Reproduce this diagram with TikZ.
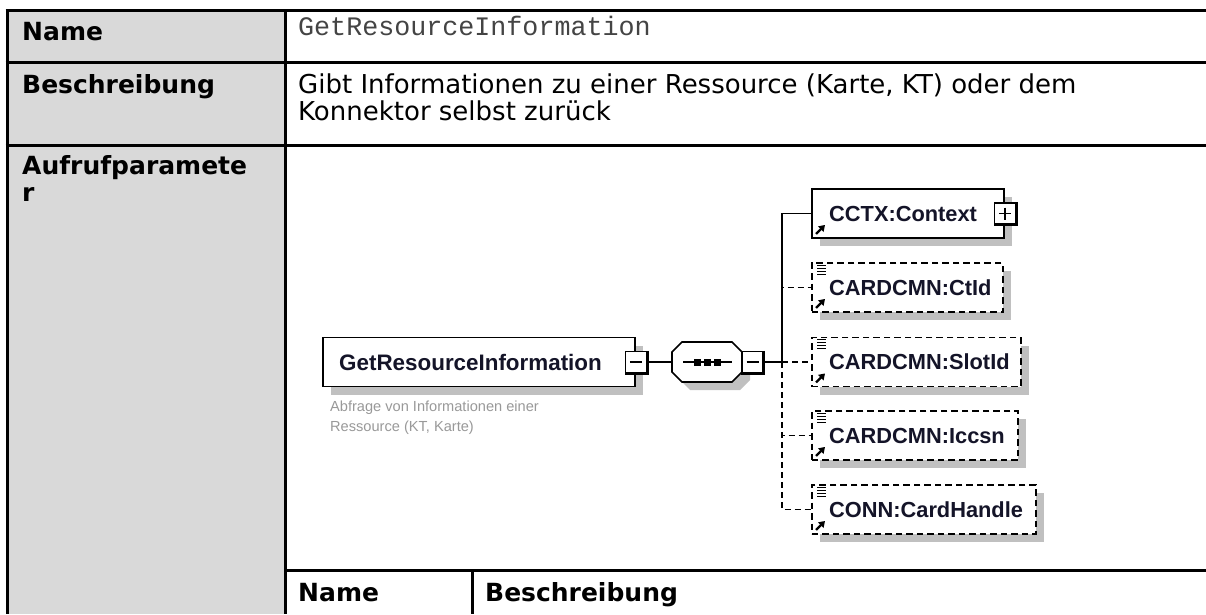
\documentclass[tikz,border=0pt]{standalone}
\usepackage{fontspec}
\setmainfont{DejaVu Sans}
\newfontfamily\xsfont{Liberation Sans}
\newfontfamily\ttmono{Liberation Mono}
\usetikzlibrary{shadows,arrows.meta,calc}
\definecolor{hdrgray}{HTML}{D9D9D9}
\definecolor{shadowgray}{HTML}{C0C0C0}
\definecolor{descgray}{HTML}{999999}
\definecolor{elemtext}{HTML}{141428}
\definecolor{monotext}{HTML}{444444}
\tikzset{
  tblline/.style={line width=3pt},
  hdr/.style={font=\fontsize{25}{30}\selectfont\bfseries, anchor=base west, inner sep=0},
  body/.style={font=\fontsize{26}{30}\selectfont, anchor=base west, inner sep=0},
  elembox/.style={draw, line width=1.9pt, fill=white, minimum height=49pt, inner sep=0, anchor=west,
    drop shadow={shadow xshift=8pt, shadow yshift=-8pt, fill=shadowgray, opacity=1}},
  optbox/.style={elembox, dash pattern=on 6.5pt off 4pt},
  elemtxt/.style={font=\xsfont\fontsize{21.8}{26}\selectfont\bfseries, text=elemtext, anchor=west, inner sep=0},
  desctxt/.style={font=\xsfont\fontsize{14.6}{20}\selectfont, text=descgray, anchor=north west, inner sep=0, align=left},
  conn/.style={line width=1.7pt},
  optconn/.style={conn, dash pattern=on 6pt off 4pt},
  pmbox/.style={draw, line width=1.4pt, fill=white, minimum size=21pt, inner sep=0},
  linkarrow/.style={line width=2.2pt, -{Triangle[length=6pt,width=7.5pt]}},
  iconline/.style={line width=1.1pt},
}
\newcommand\pmnode[3]{%
  \node[pmbox] (#1) at (#2) {};
  \draw[line width=3pt] (#1.north east) -- (#1.south east) -- (#1.south west);
  \draw[line width=1.5pt] ($(#1.center)+(-6,0)$) -- ($(#1.center)+(6,0)$);
  \ifx#3p\draw[line width=1.5pt] ($(#1.center)+(0,-6)$) -- ($(#1.center)+(0,6)$);\fi
}
\newcommand\linkicon[1]{%
  \draw[linkarrow] ([shift={(5,-5)}]#1.south west) -- ([shift={(14,-14)}]#1.south west);}
\newcommand\listicon[1]{%
  \foreach \k in {3,6,9,12}{\draw[iconline] ([shift={(6,\k)}]#1.north west) -- ([shift={(15,\k)}]#1.north west);}}
\begin{document}
\begin{tikzpicture}[x=1pt,y=-1pt]
\useasboundingbox (0,0) rectangle (1206,614);
\fill[white] (0,0) rectangle (1206,614);
% table
\fill[hdrgray] (7,10) rectangle (285,614);
\draw[tblline] (5.5,10) -- (1206,10);
\draw[tblline] (5.5,62) -- (1206,62);
\draw[tblline] (5.5,145) -- (1206,145);
\draw[tblline] (285,570) -- (1206,570);
\draw[tblline] (7,10) -- (7,614);
\draw[tblline] (285,10) -- (285,614);
\draw[tblline] (472,570) -- (472,614);
\node[hdr] (hname) at (22,40) {Name};
\node[body, font=\ttmono\fontsize{26.7}{30}\selectfont, text=monotext] (vname) at (298,35) {GetResourceInformation};
\node[hdr] (hdesc) at (22,93) {Beschreibung};
\node[body] (vdesc1) at (298,93) {Gibt Informationen zu einer Ressource (Karte, KT) oder dem};
\node[body] (vdesc2) at (298,120) {Konnektor selbst zurück};
\node[hdr] (hpar1) at (22,174) {Aufrufparamete};
\node[hdr] (hpar2) at (22,201) {r};
\node[hdr] (sname) at (298,601) {Name};
\node[hdr] (sdesc) at (485,601) {Beschreibung};
% diagram
\node[elembox, minimum width=312pt] (root) at (322,362) {};
\node[elemtxt, font=\xsfont\fontsize{22.4}{26}\selectfont\bfseries] (roott) at (339,362) {GetResourceInformation};
\node[desctxt] (rootd) at (330,401) {Abfrage von Informationen einer\\Ressource (KT, Karte)};
\pmnode{rootpm}{root.east}{m}
% sequence
\node[minimum width=70pt, minimum height=40pt, inner sep=0] (seq) at (707,362) {};
\fill[shadowgray] ($(seq.center)+(-27,-2)$) -- ($(seq.center)+(-17,-12)$) -- ($(seq.center)+(33,-12)$) -- ($(seq.center)+(43,-2)$) -- ($(seq.center)+(43,18)$) -- ($(seq.center)+(33,28)$) -- ($(seq.center)+(-17,28)$) -- ($(seq.center)+(-27,18)$) -- cycle;
\draw[line width=1.6pt, fill=white] ($(seq.center)+(-35,-10)$) -- ($(seq.center)+(-25,-20)$) -- ($(seq.center)+(25,-20)$) -- ($(seq.center)+(35,-10)$) -- ($(seq.center)+(35,10)$) -- ($(seq.center)+(25,20)$) -- ($(seq.center)+(-25,20)$) -- ($(seq.center)+(-35,10)$) -- cycle;
\draw[conn] ($(seq.center)+(-24,0)$) -- ($(seq.center)+(25,0)$);
\foreach \d in {-10,0,10}{\fill ($(seq.center)+(\d-3.5,-3.5)$) rectangle ($(seq.center)+(\d+3.5,3.5)$);}
\pmnode{seqpm}{752.5,362}{m}
% children
\node[elembox, minimum width=192pt] (cctx) at (811,213.5) {};
\node[optbox, minimum width=191pt] (ctid) at (811,287.5) {};
\node[optbox, minimum width=209pt] (slot) at (811,362) {};
\node[optbox, minimum width=206pt] (iccsn) at (811,435.5) {};
\node[optbox, minimum width=224pt] (cardh) at (811,509.5) {};
\node[elemtxt] (cctxt) at (829,213.5) {CCTX:Context};
\node[elemtxt] (ctidt) at (829,287.5) {CARDCMN:CtId};
\node[elemtxt] (slott) at (829,362) {CARDCMN:SlotId};
\node[elemtxt] (iccsnt) at (829,435.5) {CARDCMN:Iccsn};
\node[elemtxt] (cardht) at (829,509.5) {CONN:CardHandle};
\pmnode{cctxpm}{1005,213.5}{p}
\foreach \n in {cctx,ctid,slot,iccsn,cardh}{\linkicon{\n}}
\foreach \n in {ctid,slot,iccsn,cardh}{\listicon{\n}}
% connectors
\coordinate (trunk) at (782,362);
\draw[conn] (rootpm.east) -- (seq.west);
\draw[optconn] (trunk) |- (ctid.west);
\draw[optconn] (trunk) -- (slot.west);
\draw[optconn] (trunk) |- (iccsn.west);
\draw[optconn] (trunk) |- (cardh.west);
\draw[conn] (seqpm.east) -- (trunk);
\draw[conn] (trunk) |- (cctx.west);
\end{tikzpicture}
\end{document}
